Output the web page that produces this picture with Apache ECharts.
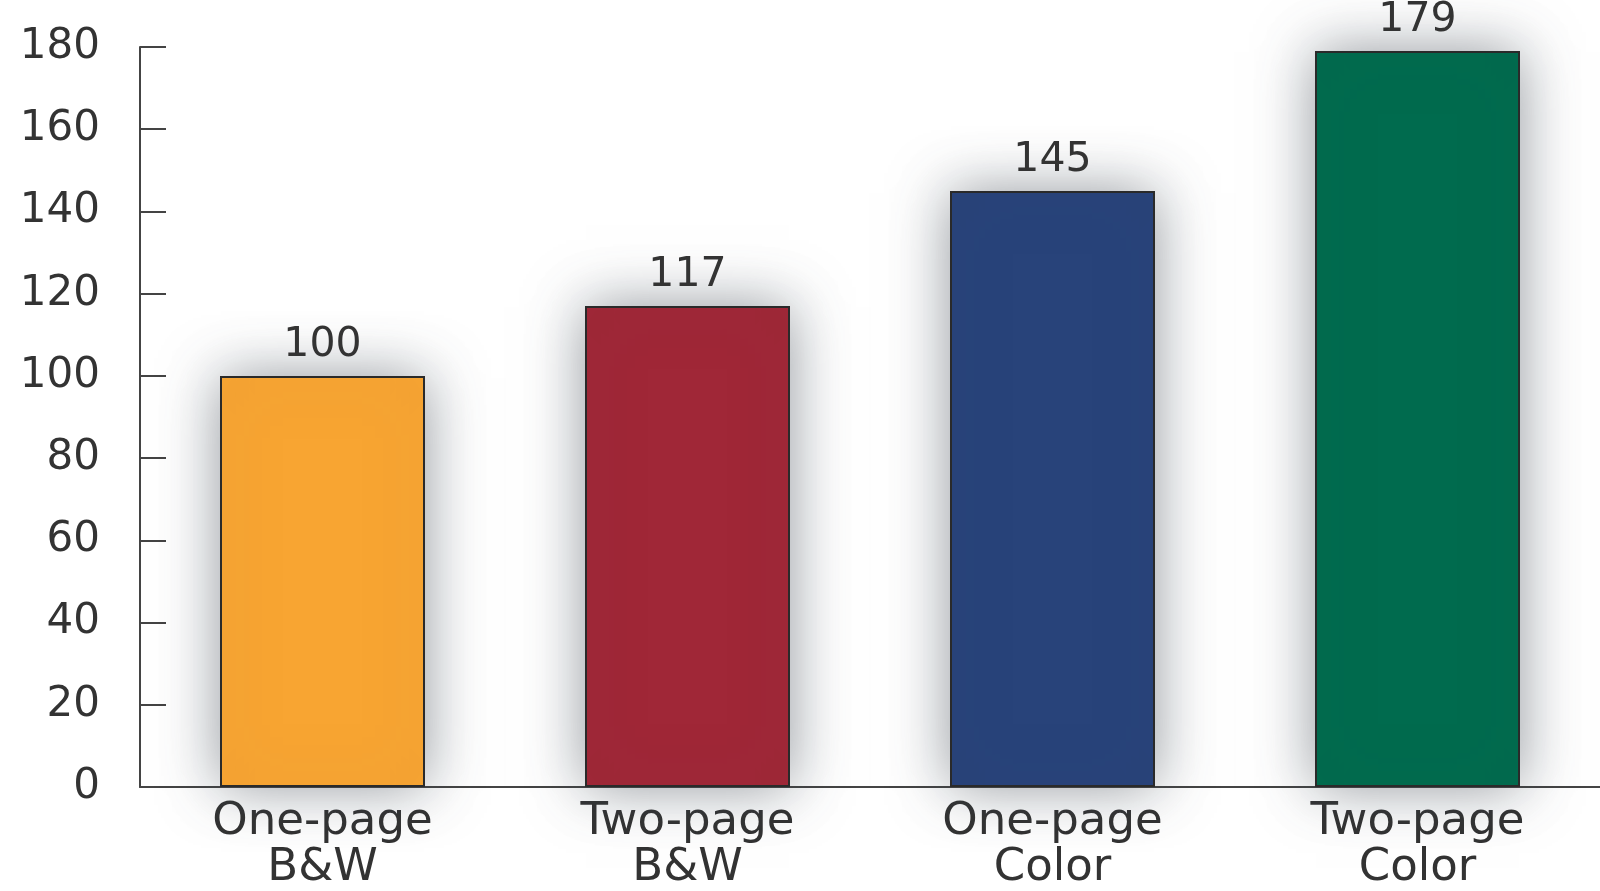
<!DOCTYPE html>
<html>
<head>
<meta charset="utf-8">
<script src="https://cdn.jsdelivr.net/npm/echarts@6/dist/echarts.min.js"></script>
<style>
html,body{margin:0;padding:0;background:#fff;}
#chart{width:1600px;height:891px;}
</style>
</head>
<body>
<div id="chart"></div>
<script>
const categories = ['One-page\nB&W', 'Two-page\nB&W', 'One-page\nColor', 'Two-page\nColor'];
const values = [100, 117, 145, 179];
const barColors = ['#F8A532', '#A02737', '#28437A', '#006B4E'];
const yTicks = { min: 0, max: 180, interval: 20 };

const chart = echarts.init(document.getElementById('chart'), null, { renderer: 'canvas' });
const textColor = '#333333';
const fontFamily = '"DejaVu Sans", "Liberation Sans", sans-serif';

chart.setOption({
  backgroundColor: '#ffffff',
  animation: false,
  grid: { left: 140, right: 0, top: 47, bottom: 101, containLabel: false },
  xAxis: {
    type: 'category',
    data: categories,
    axisLine: { lineStyle: { color: '#444', width: 2 } },
    axisTick: { show: false },
    axisLabel: {
      color: textColor, fontFamily: fontFamily, fontSize: 45,
      lineHeight: 46, margin: 12, interval: 0
    }
  },
  yAxis: {
    type: 'value',
    min: yTicks.min, max: yTicks.max, interval: yTicks.interval,
    splitLine: { show: false },
    axisLine: { show: true, lineStyle: { color: '#444', width: 2 } },
    axisTick: { show: true, inside: true, length: 26, lineStyle: { color: '#444', width: 2 } },
    axisLabel: { color: textColor, fontFamily: fontFamily, fontSize: 42, margin: 40 }
  },
  series: [{
    type: 'bar',
    barWidth: 205,
    data: values.map((v, i) => ({
      value: v,
      itemStyle: { color: barColors[i] }
    })),
    itemStyle: {
      borderColor: '#2a2a2a', borderWidth: 2,
      shadowBlur: 55, shadowColor: 'rgba(60,70,80,0.55)', shadowOffsetX: 0, shadowOffsetY: 0
    },
    label: {
      show: true, position: 'top', distance: 10,
      color: textColor, fontFamily: fontFamily, fontSize: 41
    }
  }]
});
</script>
</body>
</html>
